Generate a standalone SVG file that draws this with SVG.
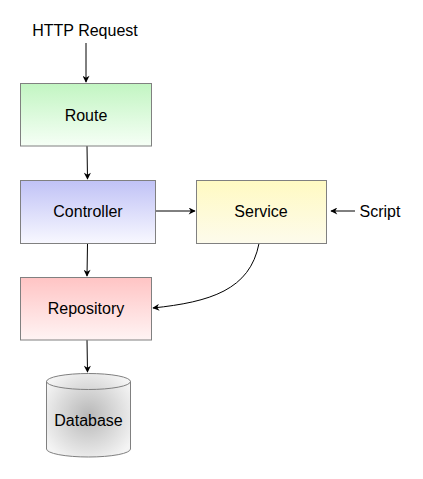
<svg xmlns="http://www.w3.org/2000/svg" width="423" height="479" viewBox="0 0 423 479">
<style>
.box{stroke:#808080;stroke-width:1}
.lbl{font-family:"Liberation Sans",Arial,sans-serif;font-size:16px;fill:#000;text-anchor:middle}
.edge{fill:none;stroke:#000;stroke-width:1}
</style>
<defs>
<linearGradient id="gG" x1="0" y1="0" x2="0" y2="1"><stop offset="0" stop-color="#c2f5c2"/><stop offset="1" stop-color="#f6fff6"/></linearGradient>
<linearGradient id="gB" x1="0" y1="0" x2="0" y2="1"><stop offset="0" stop-color="#c0c2f6"/><stop offset="1" stop-color="#f8f8ff"/></linearGradient>
<linearGradient id="gY" x1="0" y1="0" x2="0" y2="1"><stop offset="0" stop-color="#fffac2"/><stop offset="1" stop-color="#fdfbec"/></linearGradient>
<linearGradient id="gR" x1="0" y1="0" x2="0" y2="1"><stop offset="0" stop-color="#ffc4c4"/><stop offset="1" stop-color="#fff4f4"/></linearGradient>
<radialGradient id="gDB" cx="0.5" cy="0.5" r="0.6"><stop offset="0" stop-color="#b8b8b8"/><stop offset="1" stop-color="#f4f4f4"/></radialGradient>
<marker id="arr" viewBox="0 0 10 10" refX="9" refY="5" markerWidth="8" markerHeight="7" orient="auto" markerUnits="userSpaceOnUse"><path d="M0,0 L10,5 L0,10 L3,5 z" fill="#000"/></marker>
</defs>
<g id="connectors">
<path class="edge" d="M86,43 L86,82" marker-end="url(#arr)"/>
<path class="edge" d="M87,146 L87.5,179" marker-end="url(#arr)"/>
<path class="edge" d="M156,211 L195,211" marker-end="url(#arr)"/>
<path class="edge" d="M355,211 L331,211" marker-end="url(#arr)"/>
<path class="edge" d="M87.5,243.5 L87,276" marker-end="url(#arr)"/>
<path class="edge" d="M259,243.5 C250,290 210,302 153,308" marker-end="url(#arr)"/>
<path class="edge" d="M87,340 L87.5,372" marker-end="url(#arr)"/>
</g>
<g id="http-request"><text class="lbl" x="85" y="36">HTTP Request</text></g>
<g id="route"><rect class="box" x="20.5" y="83.5" width="131" height="62.5" fill="url(#gG)"/><text class="lbl" x="86" y="121">Route</text></g>
<g id="controller"><rect class="box" x="20.5" y="180.5" width="135" height="63" fill="url(#gB)"/><text class="lbl" x="88" y="217">Controller</text></g>
<g id="service"><rect class="box" x="196.5" y="180.5" width="130" height="63" fill="url(#gY)"/><text class="lbl" x="261" y="217">Service</text></g>
<g id="script"><text class="lbl" x="380" y="217">Script</text></g>
<g id="repository"><rect class="box" x="20.5" y="277.5" width="131" height="62.5" fill="url(#gR)"/><text class="lbl" x="86" y="314">Repository</text></g>
<g id="database">
<path class="box" d="M46.5,381.5 L46.5,449 A42,8 0 0 0 130.5,449 L130.5,381.5 A42,8 0 0 0 46.5,381.5 z" fill="url(#gDB)"/>
<path class="box" d="M46.5,381.5 A42,8 0 0 0 130.5,381.5" fill="none"/>
<text class="lbl" x="88.5" y="426">Database</text>
</g>
</svg>
